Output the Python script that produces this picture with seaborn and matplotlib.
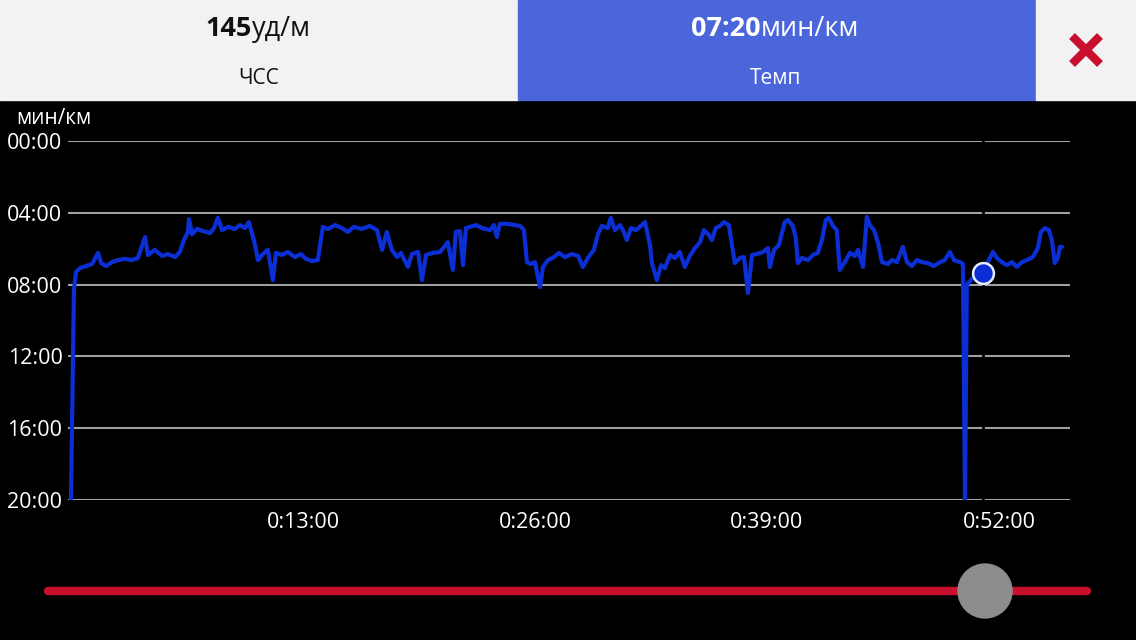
import matplotlib
matplotlib.use("Agg")
import matplotlib.pyplot as plt
import pandas as pd
import seaborn as sns
from matplotlib.patches import Rectangle, Circle

# elapsed time (s) and pace (s per km)
elapsed_s = [0, 10, 17, 30, 50, 71, 91, 101, 118, 138, 158, 182, 205, 225, 249, 259, 282, 306, 326, 350,
             366, 380, 393, 397, 407, 424, 444, 467, 481, 494, 508, 528, 551, 568, 585, 598, 615, 629, 645, 662,
             679, 689, 709, 729, 753, 773, 790, 810, 830, 847, 864, 888, 911, 931, 951, 978, 1005, 1029, 1046, 1062,
             1079, 1096, 1109, 1133, 1146, 1167, 1180, 1194, 1217, 1241, 1267, 1284, 1294, 1308, 1318, 1328, 1341, 1362, 1382, 1409,
             1422, 1432, 1442, 1469, 1493, 1510, 1523, 1533, 1547, 1560, 1577, 1587, 1604, 1620, 1641, 1661, 1684, 1705, 1721, 1738,
             1758, 1772, 1785, 1805, 1815, 1829, 1846, 1859, 1869, 1883, 1900, 1916, 1930, 1947, 1953, 1970, 1984, 1997, 2014, 2031,
             2047, 2064, 2081, 2098, 2115, 2128, 2142, 2155, 2168, 2182, 2195, 2212, 2232, 2249, 2263, 2276, 2290, 2306, 2327, 2343,
             2350, 2364, 2380, 2400, 2411, 2427, 2437, 2444, 2458, 2478, 2495, 2511, 2525, 2538, 2548, 2562, 2575, 2585, 2602, 2619,
             2636, 2646, 2663, 2676, 2686, 2700, 2713, 2727, 2747, 2760, 2777, 2797, 2811, 2827, 2844, 2861, 2881, 2901, 2922, 2938,
             2955, 2969, 2989, 2999, 3006, 3012, 3026, 3043, 3066, 3083, 3100, 3113, 3130, 3147, 3164, 3180, 3197, 3214, 3234, 3251,
             3261, 3275, 3288, 3298, 3308, 3318, 3325, 3332]
pace_s = [1200, 498, 438, 425, 418, 411, 374, 408, 418, 405, 398, 394, 398, 391, 321, 381, 364, 384, 378, 388,
          371, 331, 304, 261, 311, 294, 301, 308, 291, 257, 298, 287, 294, 281, 291, 271, 331, 398, 378, 364,
          465, 374, 381, 371, 388, 378, 394, 401, 398, 287, 294, 281, 291, 304, 287, 294, 284, 298, 364, 304,
          364, 388, 374, 421, 378, 371, 465, 381, 374, 371, 338, 431, 304, 301, 415, 291, 287, 281, 291, 298,
          281, 321, 277, 277, 281, 284, 298, 405, 411, 405, 488, 421, 398, 391, 374, 388, 378, 384, 421, 391,
          364, 311, 284, 291, 257, 298, 281, 304, 331, 291, 298, 284, 271, 348, 408, 465, 415, 425, 381, 391,
          371, 421, 384, 358, 338, 298, 311, 331, 291, 284, 271, 281, 408, 391, 388, 508, 381, 378, 371, 358,
          421, 364, 348, 271, 264, 284, 324, 408, 391, 398, 381, 374, 331, 264, 257, 284, 298, 431, 405, 374,
          384, 364, 421, 254, 281, 298, 338, 405, 411, 398, 405, 354, 405, 418, 398, 405, 408, 418, 405, 398,
          371, 398, 405, 411, 1200, 481, 465, 445, 438, 405, 371, 391, 405, 415, 405, 421, 405, 398, 388, 358,
          304, 291, 298, 331, 408, 391, 354, 354]

cursor_s = 3066
cursor_pace = 440

x_ticks = [780, 1560, 2340, 3120]
x_labels = ["0:13:00", "0:26:00", "0:39:00", "0:52:00"]
y_ticks = [0, 240, 480, 720, 960, 1200]
y_labels = ["00:00", "04:00", "08:00", "12:00", "16:00", "20:00"]

df = pd.DataFrame({"elapsed": elapsed_s, "pace": pace_s})

sns.set_theme(style="dark")
plt.rcParams["font.family"] = ["Open Sans", "DejaVu Sans"]

fig = plt.figure(figsize=(11.36, 6.4), dpi=100, facecolor="black")
ax = fig.add_axes([68 / 1136, 1 - 500 / 640, (1070 - 68) / 1136, (500 - 141) / 640])
ax.set_facecolor("black")

for v in y_ticks:
    ax.axhline(v, color="#a0a0a0", lw=1.5, zorder=1)
ax.axvline(cursor_s, color="black", lw=2, zorder=2)

sns.lineplot(data=df, x="elapsed", y="pace", sort=False, estimator=None,
             color="#0b2fd4", lw=3.0, ax=ax, zorder=3)
ax.plot([cursor_s], [cursor_pace], marker="o", ms=15, mfc="#0b2fd4",
        mec="#e8ecff", mew=1.8, zorder=4)

ax.set_xlim(-10, 3359)
ax.set_ylim(1200, 0)
ax.set_xticks(x_ticks, x_labels)
ax.set_yticks(y_ticks, y_labels)
ax.tick_params(axis="both", length=0, colors="white", labelsize=15.5)
ax.tick_params(axis="x", pad=9)
ax.tick_params(axis="y", pad=4)
ax.set_xlabel("")
ax.set_ylabel("")
ax.grid(False)
for s in ax.spines.values():
    s.set_visible(False)

# overlay in pixel coordinates for header and slider
ov = fig.add_axes([0, 0, 1, 1], zorder=5)
ov.set_xlim(0, 1136)
ov.set_ylim(640, 0)
ov.axis("off")

ov.add_patch(Rectangle((0, 0), 518, 100, color="#f2f2f2"))
ov.add_patch(Rectangle((518, 0), 518, 100, color="#4a66da"))
ov.add_patch(Rectangle((1036, 0), 100, 100, color="#f2f2f2"))

ov.text(252, 29, "145", ha="right", va="center", fontsize=19.5, fontweight="bold", color="#111111")
ov.text(252, 29, "уд/м", ha="left", va="center", fontsize=19.5, color="#111111")
ov.text(259, 78, "ЧСС", ha="center", va="center", fontsize=15, color="#111111")
ov.text(761, 29, "07:20", ha="right", va="center", fontsize=19.5, fontweight="bold", color="white")
ov.text(761, 29, "мин/км", ha="left", va="center", fontsize=19.5, color="white")
ov.text(776, 78, "Темп", ha="center", va="center", fontsize=15, color="white")

ov.plot([1072, 1100], [36, 64], color="#c8102e", lw=6, solid_capstyle="butt")
ov.plot([1072, 1100], [64, 36], color="#c8102e", lw=6, solid_capstyle="butt")

ov.text(16, 118, "мин/км", ha="left", va="center", fontsize=15, color="white")

ov.plot([48, 1087], [591, 591], color="#c8102e", lw=6, solid_capstyle="round")
ov.add_patch(Circle((985, 591), 27, color="#8c8c8c", zorder=6))

fig.savefig("out.png", dpi=100, facecolor="black")
